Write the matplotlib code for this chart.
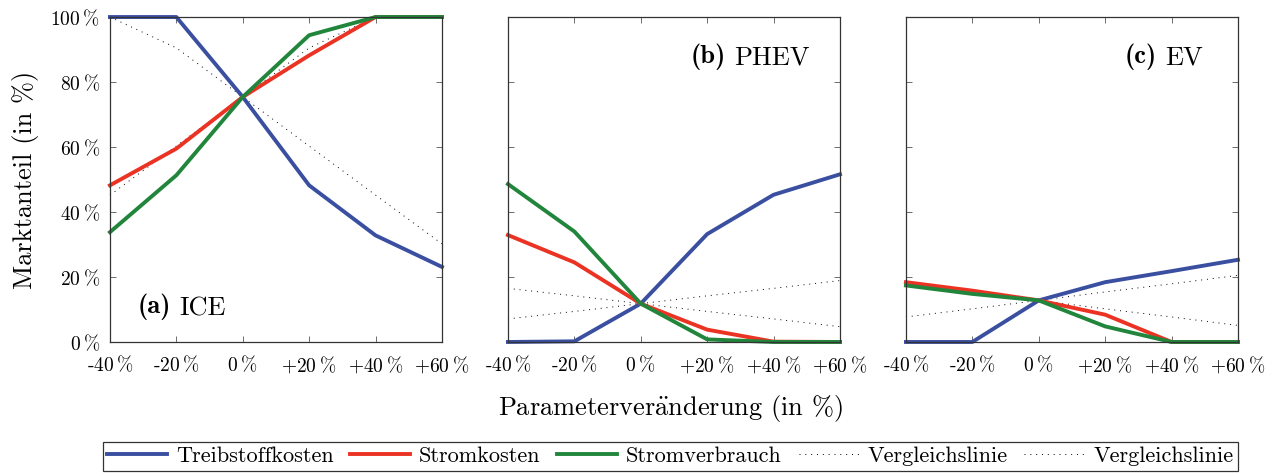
import matplotlib.pyplot as plt

plt.rcParams["font.family"] = "serif"
plt.rcParams["font.serif"] = ["cmr10", "DejaVu Serif"]
plt.rcParams["mathtext.fontset"] = "cm"
plt.rcParams["axes.unicode_minus"] = False
plt.rcParams["axes.formatter.use_mathtext"] = True

# Parameterveränderung (x-Achse)
x = [-40, -20, 0, 20, 40, 60]
x_labels = ["-40$\\:$%", "-20$\\:$%", "0$\\:$%", "+20$\\:$%", "+40$\\:$%", "+60$\\:$%"]
y_ticks = [0, 20, 40, 60, 80, 100]
y_labels = ["0$\\:$%", "20$\\:$%", "40$\\:$%", "60$\\:$%", "80$\\:$%", "100$\\:$%"]

# (a) ICE
ice_treibstoff = [100, 100, 75.4, 48.2, 32.8, 23.1]
ice_strom = [48.2, 59.5, 75.4, 88.2, 100, 100]
ice_verbrauch = [33.8, 51.3, 75.4, 94.4, 100, 100]
ice_vgl_ab = [100, 90.5, 75.4, 60.3, 45.2, 30.2]
ice_vgl_auf = [45.2, 60.3, 75.4, 90.5, 100, 100]

# (b) PHEV
phev_treibstoff = [0, 0.2, 11.8, 33.2, 45.3, 51.6]
phev_strom = [32.9, 24.5, 11.8, 3.8, 0.1, 0]
phev_verbrauch = [48.6, 34.0, 11.8, 0.8, 0, 0]
phev_vgl_ab = [16.5, 14.2, 11.8, 9.4, 7.1, 4.7]
phev_vgl_auf = [7.1, 9.4, 11.8, 14.2, 16.5, 18.9]

# (c) EV
ev_treibstoff = [0, 0, 12.8, 18.4, 21.8, 25.3]
ev_strom = [18.4, 15.8, 12.8, 8.4, 0, 0]
ev_verbrauch = [17.4, 14.8, 12.8, 4.8, 0, 0]
ev_vgl_ab = [17.9, 15.4, 12.8, 10.2, 7.7, 5.1]
ev_vgl_auf = [7.7, 10.2, 12.8, 15.4, 17.9, 20.5]

panels = [
    ("(a)", "ICE", (0.084, 0.108), "left",
     ice_treibstoff, ice_strom, ice_verbrauch, ice_vgl_ab, ice_vgl_auf),
    ("(b)", "PHEV", (0.91, 0.874), "right",
     phev_treibstoff, phev_strom, phev_verbrauch, phev_vgl_ab, phev_vgl_auf),
    ("(c)", "EV", (0.895, 0.874), "right",
     ev_treibstoff, ev_strom, ev_verbrauch, ev_vgl_ab, ev_vgl_auf),
]

blau = "#3b4fa1"
rot = "#eb3324"
gruen = "#21863c"

fig = plt.figure(figsize=(12.74, 4.73), dpi=100)
lefts = [0.0863, 0.3987, 0.7111]

for i, (kenn, name, pos, ha, tb, sk, sv, v1, v2) in enumerate(panels):
    ax = fig.add_axes([lefts[i], 0.277, 0.2606, 0.687])
    ax.plot(x, v1, color="black", lw=0.7, ls=(0, (1, 5)), clip_on=False)
    ax.plot(x, v2, color="black", lw=0.7, ls=(0, (1, 5)), clip_on=False)
    ax.plot(x, tb, color=blau, lw=2.8, clip_on=False)
    ax.plot(x, sk, color=rot, lw=2.8, clip_on=False)
    ax.plot(x, sv, color=gruen, lw=2.8, clip_on=False)
    ax.set_xlim(-40, 60)
    ax.set_ylim(0, 100)
    ax.set_xticks(x)
    ax.set_xticklabels(x_labels, fontsize=14)
    ax.set_yticks(y_ticks)
    if i == 0:
        ax.set_yticklabels(y_labels, fontsize=14)
        ax.set_ylabel("Marktanteil (in %)", fontsize=19, labelpad=8)
    else:
        ax.set_yticklabels([])
    ax.tick_params(direction="in", top=True, right=True, length=4,
                   width=0.6, color="#555555")
    ax.tick_params(axis="x", pad=9)
    ax.tick_params(axis="y", pad=7)
    for s in ax.spines.values():
        s.set_linewidth(0.9)
        s.set_color("#333333")

    # Panelbeschriftung: Kennung fett, Name normal
    if ha == "left":
        t1 = ax.text(pos[0], pos[1], kenn, transform=ax.transAxes,
                     fontsize=19, family="cmb10", ha="left", va="center")
        ax.annotate(name, xy=(1, 0), xycoords=t1, xytext=(6, 0),
                    textcoords="offset points", fontsize=19,
                    ha="left", va="bottom")
    else:
        t2 = ax.text(pos[0], pos[1], name, transform=ax.transAxes,
                     fontsize=19, ha="right", va="center")
        ax.annotate(kenn, xy=(0, 0), xycoords=t2, xytext=(-6, 0),
                    textcoords="offset points", fontsize=19,
                    family="cmb10", ha="right", va="bottom")

fig.text(0.526, 0.137, "Parameterver$\\ddot{\\mathrm{a}}$nderung (in %)",
         fontsize=19, ha="center", va="center")

handles = [
    plt.Line2D([], [], color=blau, lw=2.8),
    plt.Line2D([], [], color=rot, lw=2.8),
    plt.Line2D([], [], color=gruen, lw=2.8),
    plt.Line2D([], [], color="black", lw=0.7, ls=(0, (1, 5))),
    plt.Line2D([], [], color="black", lw=0.7, ls=(0, (1, 5))),
]
names = ["Treibstoffkosten", "Stromkosten", "Stromverbrauch",
         "Vergleichslinie", "Vergleichslinie"]
leg = fig.legend(handles, names, ncol=5, loc="center",
                 bbox_to_anchor=(0.526, 0.035), fontsize=16, frameon=True,
                 fancybox=False, edgecolor="black", handlelength=2.7,
                 columnspacing=0.75, handletextpad=0.4, borderpad=0.2,
                 borderaxespad=0)
leg.get_frame().set_linewidth(0.9)

fig.savefig("out.png", dpi=100)
